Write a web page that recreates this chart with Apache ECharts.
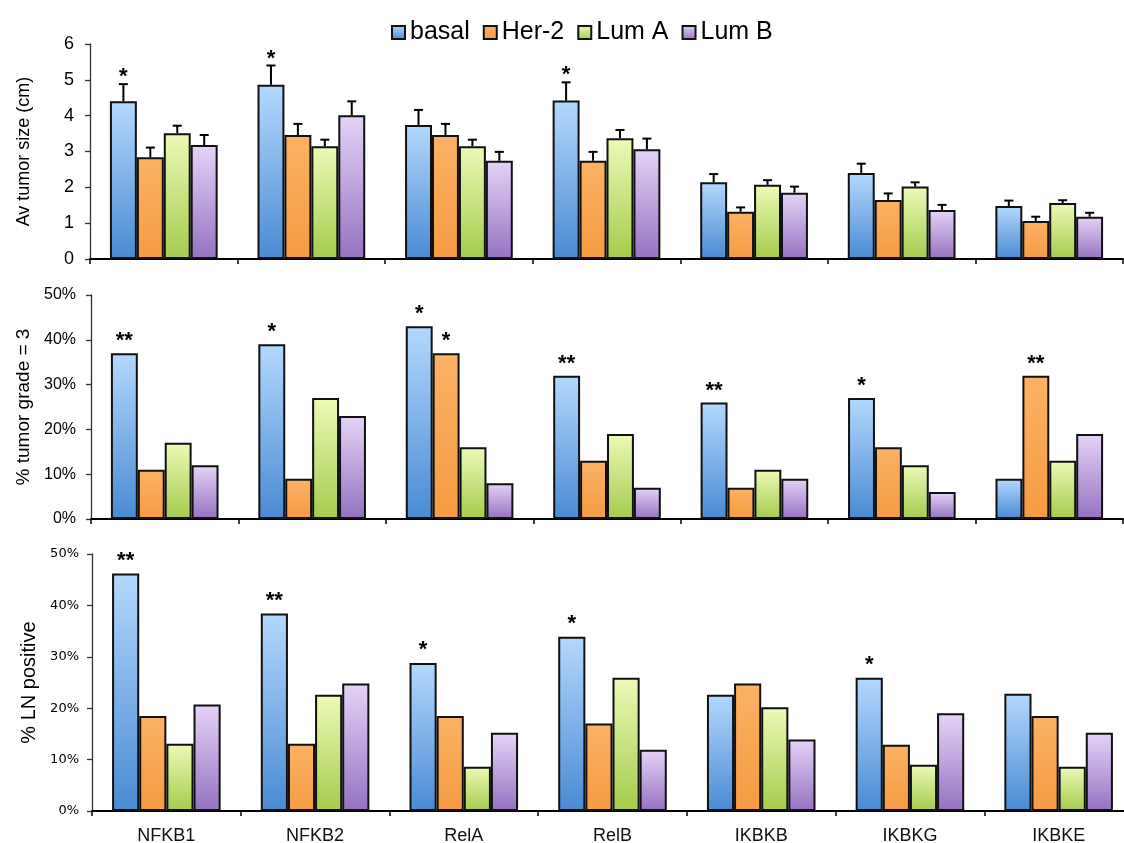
<!DOCTYPE html>
<html>
<head>
<meta charset="utf-8">
<script src="https://cdn.jsdelivr.net/npm/echarts@6/dist/echarts.min.js"></script>
<style>
  html, body { margin: 0; padding: 0; background: #fff; }
  #chart { width: 1124px; height: 843px; }
</style>
</head>
<body>
<div id="chart"></div>
<script>
// NF-kB pathway genes and breast cancer subtypes
const categories = ['NFKB1', 'NFKB2', 'RelA', 'RelB', 'IKBKB', 'IKBKG', 'IKBKE'];
const subtypes = ['basal', 'Her-2', 'Lum A', 'Lum B'];

// Average tumor size (cm), mean per subtype
const sizeBasal = [4.40, 4.86, 3.74, 4.42, 2.14, 2.40, 1.48];
const sizeHer2  = [2.84, 3.46, 3.46, 2.74, 1.32, 1.65, 1.06];
const sizeLumA  = [3.51, 3.15, 3.15, 3.37, 2.07, 2.02, 1.56];
const sizeLumB  = [3.18, 4.01, 2.74, 3.06, 1.85, 1.37, 1.18];
// Standard error of tumor size (upper error bar)
const seBasal = [0.48, 0.54, 0.42, 0.51, 0.23, 0.26, 0.15];
const seHer2  = [0.27, 0.31, 0.31, 0.25, 0.12, 0.18, 0.12];
const seLumA  = [0.21, 0.18, 0.18, 0.23, 0.13, 0.12, 0.08];
const seLumB  = [0.28, 0.39, 0.25, 0.30, 0.17, 0.14, 0.11];

// % tumors with grade = 3
const gradeBasal = [37, 39, 43, 32, 26, 27, 9];
const gradeHer2  = [11, 9, 37, 13, 7, 16, 32];
const gradeLumA  = [17, 27, 16, 19, 11, 12, 13];
const gradeLumB  = [12, 23, 8, 7, 9, 6, 19];

// % lymph node positive
const lnBasal = [46.2, 38.4, 28.8, 33.9, 22.6, 25.9, 22.8];
const lnHer2  = [18.5, 13.1, 18.5, 17.0, 24.8, 12.9, 18.5];
const lnLumA  = [13.1, 22.6, 8.6, 25.9, 20.2, 9.0, 8.6];
const lnLumB  = [20.7, 24.8, 15.2, 11.9, 13.9, 19.0, 15.2];

// Significance marks: [category index, subtype index, mark]
const sizeStars  = [[0, 0, '*'], [1, 0, '*'], [3, 0, '*']];
const gradeStars = [[0, 0, '**'], [1, 0, '*'], [2, 0, '*'], [2, 1, '*'], [3, 0, '**'], [4, 0, '**'], [5, 0, '*'], [6, 1, '**']];
const lnStars    = [[0, 0, '**'], [1, 0, '**'], [2, 0, '*'], [3, 0, '*'], [5, 0, '*']];

// ---- styling ----
const FONT = 'Liberation Sans';
const CAT_GAP = 0.27;
const fills = [
  ['#b4d8fd', '#4a8ad3'],
  ['#fbb265', '#f59b43'],
  ['#ecfab8', '#a5cb4c'],
  ['#e5d3f7', '#9572c1']
];
function grad(i) {
  return new echarts.graphic.LinearGradient(0, 0, 0, 1, [
    { offset: 0, color: fills[i][0] },
    { offset: 1, color: fills[i][1] }
  ]);
}

const panels = [
  { values: [sizeBasal, sizeHer2, sizeLumA, sizeLumB], stars: sizeStars, errors: [seBasal, seHer2, seLumA, seLumB] },
  { values: [gradeBasal, gradeHer2, gradeLumA, gradeLumB], stars: gradeStars },
  { values: [lnBasal, lnHer2, lnLumA, lnLumB], stars: lnStars }
];

// the lowest panel runs slightly past the right edge of the canvas
const grids = [
  { left: 90, width: 1033, top: 44, height: 215, outerBoundsMode: 'none' },
  { left: 91, width: 1032, top: 295, height: 224, outerBoundsMode: 'none' },
  { left: 92, width: 1041, top: 554, height: 257, outerBoundsMode: 'none' }
];

const yAxes = [
  { min: 0, max: 6, interval: 1, name: 'Av tumor size (cm)', nameGap: 57, nameSize: 18,
    labelSize: 18, labelWeight: 'normal', labelFont: FONT, labelMargin: 16, fmt: '{value}' },
  { min: 0, max: 50, interval: 10, name: '% tumor grade = 3', nameGap: 51, nameSize: 19,
    labelSize: 16, labelWeight: 'normal', labelFont: FONT, labelMargin: 15, fmt: '{value}%' },
  { min: 0, max: 50, interval: 10, name: '% LN positive', nameGap: 49, nameSize: 20,
    labelSize: 13, labelWeight: 'normal', labelFont: 'DejaVu Sans', labelMargin: 13, fmt: '{value}%' }
];

// gap between the top of a bar (or its error bar) and the bottom of its mark
const starLift = [-4, 1, 2];

const xAxis = grids.map((g, p) => ({
  type: 'category',
  gridIndex: p,
  data: categories,
  axisLine: { lineStyle: { color: '#000', width: 2 } },
  axisTick: { show: true, length: 5, lineStyle: { color: '#000', width: 1.5 } },
  axisLabel: {
    show: p === 2, fontSize: 18, color: '#111', fontFamily: FONT, margin: 16
  }
}));

const yAxis = yAxes.map((a, p) => ({
  type: 'value',
  gridIndex: p,
  min: a.min, max: a.max, interval: a.interval,
  name: a.name,
  nameLocation: 'middle',
  nameGap: a.nameGap,
  nameTextStyle: { fontSize: a.nameSize, color: '#000', fontFamily: FONT },
  axisLine: { show: true, lineStyle: { color: '#333', width: 1.3 } },
  axisTick: { show: true, length: 5, lineStyle: { color: '#333', width: 1.3 } },
  splitLine: { show: false },
  axisLabel: {
    fontSize: a.labelSize, fontWeight: a.labelWeight, color: '#000',
    fontFamily: a.labelFont, margin: a.labelMargin, formatter: a.fmt
  }
}));

const series = [];
panels.forEach((panel, p) => {
  panel.values.forEach((vals, s) => {
    series.push({
      type: 'bar',
      name: subtypes[s],
      xAxisIndex: p,
      yAxisIndex: p,
      data: vals,
      barGap: '0%',
      barCategoryGap: (CAT_GAP * 100) + '%',
      itemStyle: { color: grad(s), borderColor: '#111', borderWidth: 2 },
      z: 2
    });
  });

  // offset of a subtype's bar centre from the category centre
  function barOffset(api, s) {
    const band = api.size([1, 0])[0];
    const bw = band * (1 - CAT_GAP) / 4;
    return (s - 1.5) * bw;
  }

  if (panel.errors) {
    const errData = [];
    panel.values.forEach((vals, s) => {
      vals.forEach((v, c) => errData.push([c, s, v, v + panel.errors[s][c]]));
    });
    series.push({
      type: 'custom',
      xAxisIndex: p,
      yAxisIndex: p,
      data: errData,
      encode: { x: 0, y: [2, 3] },
      z: 3,
      renderItem: function (params, api) {
        const c = api.value(0), s = api.value(1);
        const base = api.coord([c, api.value(2)]);
        const top = api.coord([c, api.value(3)]);
        const x = base[0] + barOffset(api, s);
        return {
          type: 'group',
          children: [
            { type: 'line', shape: { x1: x, y1: base[1], x2: x, y2: top[1] },
              style: { stroke: '#000', lineWidth: 2 } },
            { type: 'line', shape: { x1: x - 4.5, y1: top[1], x2: x + 4.5, y2: top[1] },
              style: { stroke: '#000', lineWidth: 2 } }
          ]
        };
      }
    });
  }

  const starData = panel.stars.map(st => {
    const c = st[0], s = st[1];
    let y = panel.values[s][c];
    if (panel.errors) y += panel.errors[s][c];
    return [c, s, y];
  });
  const marks = panel.stars.map(st => st[2]);
  series.push({
    type: 'custom',
    xAxisIndex: p,
    yAxisIndex: p,
    data: starData,
    encode: { x: 0, y: 2 },
    z: 4,
    renderItem: function (params, api) {
      const c = api.value(0), s = api.value(1);
      const pt = api.coord([c, api.value(2)]);
      return {
        type: 'text',
        style: {
          text: marks[params.dataIndex],
          x: pt[0] + barOffset(api, s),
          y: pt[1] - starLift[p],
          align: 'center',
          verticalAlign: 'bottom',
          fontSize: 22,
          fontWeight: 'bold',
          fontFamily: FONT,
          fill: '#000'
        }
      };
    }
  });
});

const chart = echarts.init(document.getElementById('chart'), null, { renderer: 'canvas' });
chart.setOption({
  animation: false,
  textStyle: { fontFamily: FONT },
  legend: {
    data: subtypes,
    left: 386,
    top: 15,
    icon: 'rect',
    itemWidth: 13,
    itemHeight: 13,
    itemGap: 13,
    selectedMode: false,
    textStyle: { fontSize: 25, color: '#000', fontFamily: FONT }
  },
  grid: grids,
  xAxis: xAxis,
  yAxis: yAxis,
  series: series
});
</script>
</body>
</html>
